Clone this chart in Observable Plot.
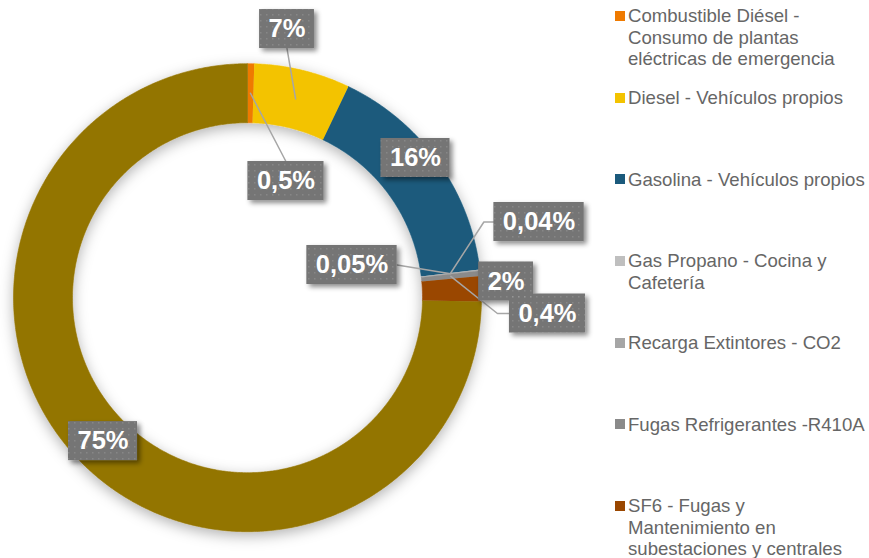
<!DOCTYPE html>
<html><head><meta charset="utf-8">
<script src="https://cdn.jsdelivr.net/npm/d3@7"></script>
<script src="https://cdn.jsdelivr.net/npm/@observablehq/plot@0.6"></script>
<style>
html,body{margin:0;padding:0;background:#fff;}
#wrap{position:relative;width:869px;height:558px;overflow:hidden;font-family:"Liberation Sans",Arial,sans-serif;}
#chart{position:absolute;left:0;top:0;}
.leg{position:absolute;left:615px;font-size:18.6px;line-height:21.2px;color:#666;}
.leg .sw{position:absolute;left:0;top:5.6px;width:10px;height:10px;}
.leg .tx{margin-left:13px;white-space:pre;}
</style></head><body><div id="wrap"><div id="chart"></div></div>
<script>
// ---- data ----
const names = [
  "Combustible Diésel - Consumo de plantas eléctricas de emergencia",
  "Diesel - Vehículos propios",
  "Gasolina - Vehículos propios",
  "Gas Propano - Cocina y Cafetería",
  "Recarga Extintores - CO2",
  "Fugas Refrigerantes -R410A",
  "SF6 - Fugas y Mantenimiento en subestaciones y centrales",
  "Otras fuentes"
];
// legend lines (as wrapped in the reference)
const legendLines = [
  ["Combustible Diésel -", "Consumo de plantas", "eléctricas de emergencia"],
  ["Diesel - Vehículos propios"],
  ["Gasolina - Vehículos propios"],
  ["Gas Propano - Cocina y", "Cafetería"],
  ["Recarga Extintores - CO2"],
  ["Fugas Refrigerantes -R410A"],
  ["SF6 - Fugas y", "Mantenimiento en", "subestaciones y centrales"]
];
const values = [0.46, 6.64, 15.97, 0.04, 0.05, 0.36, 1.74, 74.74];
const colors = ["#ef7a00", "#f3c300", "#1b5a7c", "#bfbfbf", "#a6a6a6", "#8a8a8a", "#9a4700", "#937400"];

// ---- layout ----
const W = 869, H = 558, CX = 247, CY = 297.2, R_OUT = 234, R_IN = 175;
const U = R_OUT;
// label nudges (px) from each slice's mid-ring anchor, and leader attachment side
const labelNudge = [
  {dx: 35.5, dy: 87.8, leader: "top"},
  {dx: -8.6, dy: -69.9, leader: "bottom"},
  {dx: 1.9, dy: -20.4},
  {dx: 88.5, dy: -51.2, leader: "left", elbow: 10},
  {dx: -98.6, dy: -8.8, leader: "right"},
  {dx: 96.6, dy: 37.1, leader: "left", elbow: 12},
  {dx: 54.2, dy: -8.4},
  {dx: 1.3, dy: 0}
];
const BOX_H = 39, PAD = 9, FS = 25.5;

const fmt = v => { const d = v >= 1 ? 0 : v >= 0.1 ? 1 : 2; return v.toFixed(d).replace(".", ",") + "%"; };
const toX = px => (px - CX) / U, toY = py => (CY - py) / U;

const total = d3.sum(values);
let acc = 0;
const slices = values.map((v, i) => {
  const a0 = acc / total * 2 * Math.PI; acc += v; const a1 = acc / total * 2 * Math.PI;
  return {name: names[i], value: v, a0, a1};
});
const ri = R_IN / U;
const ringPts = [];
for (const s of slices) {
  const n = Math.max(2, Math.ceil((s.a1 - s.a0) / (Math.PI / 360)));
  for (let k = 0; k <= n; k++) { const a = s.a0 + (s.a1 - s.a0) * k / n; ringPts.push({name: s.name, x: Math.sin(a), y: Math.cos(a)}); }
  for (let k = n; k >= 0; k--) { const a = s.a0 + (s.a1 - s.a0) * k / n; ringPts.push({name: s.name, x: ri * Math.sin(a), y: ri * Math.cos(a)}); }
}

const ctx = document.createElement("canvas").getContext("2d");
ctx.font = `bold ${FS}px "Liberation Sans"`;
const rm = (R_IN + R_OUT) / 2;
const labels = slices.map((s, i) => {
  const m = (s.a0 + s.a1) / 2;
  const ax = CX + rm * Math.sin(m), ay = CY - rm * Math.cos(m);
  const nd = labelNudge[i];
  const lx = ax + nd.dx, ly = ay + nd.dy;
  const text = fmt(s.value);
  const w = ctx.measureText(text).width + 2 * PAD;
  return {i, text, ax, ay, lx, ly, w, nd};
});
const boxes = labels.map(l => ({x1: toX(l.lx - l.w / 2), x2: toX(l.lx + l.w / 2), y1: toY(l.ly - BOX_H / 2), y2: toY(l.ly + BOX_H / 2)}));
const leaderPts = [];
for (const l of labels) {
  const nd = l.nd; if (!nd.leader) continue;
  const path = [[l.ax, l.ay]];
  if (nd.leader === "top") path.push([l.lx, l.ly - BOX_H / 2]);
  if (nd.leader === "bottom") path.push([l.lx, l.ly + BOX_H / 2]);
  if (nd.leader === "left") { path.push([l.lx - l.w / 2 - (nd.elbow || 0), l.ly]); path.push([l.lx - l.w / 2, l.ly]); }
  if (nd.leader === "right") path.push([l.lx + l.w / 2, l.ly]);
  for (const [px, py] of path) leaderPts.push({id: l.i, x: toX(px), y: toY(py)});
}

const plot = Plot.plot({
  width: W, height: H, margin: 0,
  x: {domain: [toX(0), toX(W)], axis: null},
  y: {domain: [toY(H), toY(0)], axis: null},
  color: {domain: names, range: colors},
  marks: [
    Plot.line(ringPts, {x: "x", y: "y", z: "name", fill: "name", stroke: "name", strokeWidth: 0.6}),
    Plot.line(leaderPts, {x: "x", y: "y", z: "id", stroke: "#a6a6a6", strokeWidth: 1.5}),
    Plot.rect(boxes, {x1: "x1", x2: "x2", y1: "y1", y2: "y2", fill: "#747474"}),
    Plot.rect(boxes, {x1: "x1", x2: "x2", y1: "y1", y2: "y2", fill: "url(#dots)"}),
    Plot.text(labels, {x: d => toX(d.lx), y: d => toY(d.ly), text: "text", fill: "white", fontSize: FS, fontWeight: "bold", fontFamily: "Liberation Sans, Arial, sans-serif"})
  ]
});
const svg = d3.select(plot);
svg.insert("defs", ":first-child").html(`
  <filter id="ringShadow" x="-20%" y="-20%" width="140%" height="140%">
    <feDropShadow dx="0" dy="4" stdDeviation="7" flood-color="#000" flood-opacity="0.3"/>
  </filter>
  <filter id="boxShadow" x="-20%" y="-20%" width="150%" height="160%">
    <feDropShadow dx="3" dy="3" stdDeviation="2.5" flood-color="#000" flood-opacity="0.45"/>
  </filter>
  <pattern id="dots" width="6" height="6" patternUnits="userSpaceOnUse">
    <rect x="2" y="2" width="1.5" height="1.5" fill="rgba(255,255,255,0.13)"/>
  </pattern>`);
const lineGs = svg.selectAll('g[aria-label="line"]').nodes();
if (lineGs[0]) d3.select(lineGs[0]).attr("filter", "url(#ringShadow)");
const rectGs = svg.selectAll('g[aria-label="rect"]').nodes();
if (rectGs[0]) d3.select(rectGs[0]).attr("filter", "url(#boxShadow)");
document.getElementById("chart").appendChild(plot);

// legend
const wrap = document.getElementById("wrap");
legendLines.forEach((lines, i) => {
  const div = document.createElement("div");
  div.className = "leg";
  div.style.top = (5.4 + i * 81.67) + "px";
  const sw = document.createElement("div"); sw.className = "sw"; sw.style.background = colors[i];
  const tx = document.createElement("div"); tx.className = "tx"; tx.textContent = lines.join("\n");
  div.appendChild(sw); div.appendChild(tx);
  wrap.appendChild(div);
});
</script></body></html>
